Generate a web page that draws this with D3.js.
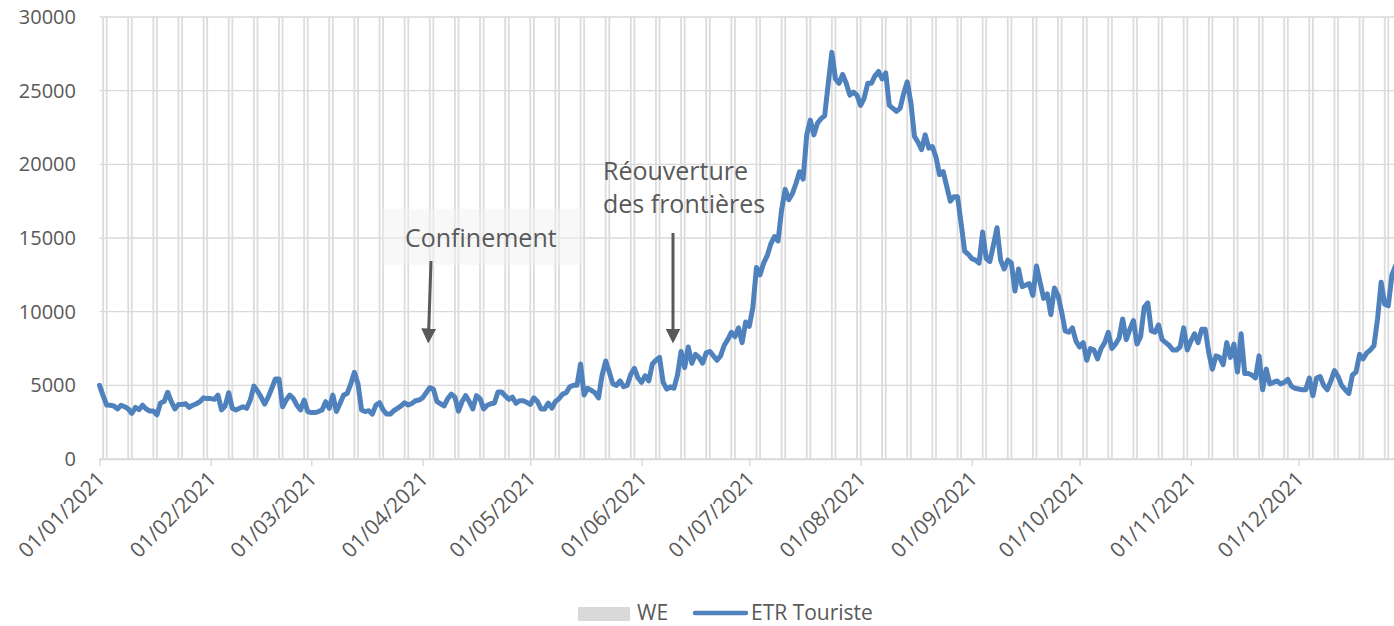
<!DOCTYPE html>
<html>
<head>
<meta charset="utf-8">
<script src="https://cdn.jsdelivr.net/npm/d3@7"></script>
<style>
  body { margin: 0; background: #fff; }
  svg { display: block; font-family: "Open Sans", sans-serif; }
</style>
</head>
<body>
<svg id="chart" width="1394" height="626"></svg>
<script>
// daily values of "ETR Touriste", one array per month (2021)
const janValues = [5000, 4300, 3660, 3650, 3600, 3400, 3650, 3550, 3400, 3100, 3500, 3350, 3650, 3400, 3250, 3250, 3000, 3800, 3900, 4530, 3900, 3400, 3700, 3700, 3750, 3500, 3650, 3750, 3900, 4150, 4100];
const febValues = [4100, 4050, 4340, 3330, 3600, 4500, 3440, 3330, 3440, 3550, 3440, 4000, 4950, 4620, 4200, 3730, 4200, 4800, 5430, 5430, 3550, 4000, 4340, 4100, 3650, 3330, 4000, 3220];
const marValues = [3150, 3150, 3220, 3330, 3890, 3440, 4340, 3220, 3770, 4340, 4450, 5100, 5880, 5100, 3330, 3220, 3280, 3050, 3660, 3820, 3330, 3050, 3050, 3280, 3440, 3600, 3820, 3660, 3770, 3950, 4000];
const aprValues = [4150, 4500, 4840, 4750, 3890, 3750, 3600, 4100, 4400, 4200, 3250, 3900, 4300, 3900, 3400, 4300, 4100, 3400, 3650, 3750, 3800, 4550, 4550, 4300, 4050, 4200, 3780, 3950, 3950, 3850];
const mayValues = [3700, 4150, 3900, 3400, 3400, 3800, 3450, 3900, 4100, 4400, 4500, 4900, 5000, 5000, 6450, 4350, 4800, 4650, 4500, 4150, 5700, 6650, 5900, 5100, 5000, 5300, 4900, 5000, 5750, 6150, 5500];
const junValues = [5200, 5650, 5300, 6450, 6700, 6900, 5200, 4750, 4900, 4800, 5700, 7300, 6200, 7600, 6500, 7100, 6900, 6500, 7200, 7300, 7000, 6700, 7000, 7700, 8100, 8600, 8300, 8900, 7900, 9300];
const julValues = [9000, 10300, 13000, 12500, 13300, 13800, 14600, 15100, 14800, 16900, 18300, 17600, 18000, 18700, 19500, 19000, 22000, 23000, 22000, 22800, 23100, 23300, 25500, 27600, 25800, 25500, 26100, 25500, 24700, 24900, 24700];
const augValues = [24000, 24500, 25500, 25500, 26000, 26300, 25800, 26200, 24000, 23800, 23600, 23800, 24800, 25600, 24200, 21900, 21500, 21000, 22000, 21100, 21200, 20500, 19300, 19500, 18500, 17500, 17800, 17800, 16000, 14100, 13900];
const sepValues = [13600, 13500, 13300, 15400, 13600, 13400, 14500, 15700, 13500, 12900, 13500, 13300, 11400, 12900, 11700, 11800, 11900, 11100, 13100, 12000, 10900, 11200, 9800, 11600, 11100, 10000, 8700, 8600, 8900, 8000];
const octValues = [7600, 7900, 6700, 7500, 7400, 6800, 7500, 7900, 8600, 7500, 7800, 8200, 9500, 8100, 8800, 9400, 7800, 8300, 10300, 10600, 8700, 8600, 9100, 8100, 7900, 7700, 7400, 7400, 7600, 8900, 7400];
const novValues = [8000, 8500, 7900, 8800, 8800, 7200, 6100, 7000, 6900, 6400, 7900, 6900, 7800, 5900, 8500, 5800, 5800, 5700, 5500, 7000, 4700, 6100, 5100, 5200, 5300, 5100, 5200, 5400, 4950, 4800];
const decValues = [4750, 4700, 4700, 5500, 4300, 5500, 5600, 5000, 4700, 5300, 6000, 5600, 5000, 4700, 4450, 5700, 5900, 7100, 6800, 7200, 7400, 7700, 9500, 12000, 10500, 10400, 12500, 13100];

const monthLabels = ["01/01/2021", "01/02/2021", "01/03/2021", "01/04/2021", "01/05/2021", "01/06/2021",
                     "01/07/2021", "01/08/2021", "01/09/2021", "01/10/2021", "01/11/2021", "01/12/2021"];
const yTicks = [0, 5000, 10000, 15000, 20000, 25000, 30000];
const WE_VALUE = 30000;          // weekend bars reach the top of the axis
const WE_DAYS = [6, 0];          // Saturday, Sunday
const seriesNames = ["WE", "ETR Touriste"];

const BLUE = "#4f81bd";
const GRID = "#d9d9d9";
const TEXT = "#595959";

const parseDate = d3.timeParse("%d/%m/%Y");
const start = parseDate("01/01/2021");
const end = parseDate("31/12/2021");

const etrTouriste = [].concat(janValues, febValues, marValues, aprValues, mayValues, junValues,
  julValues, augValues, sepValues, octValues, novValues, decValues)
  .map((v, i) => ({ date: d3.timeDay.offset(start, i), value: v }));

const weDates = d3.timeDay.range(start, d3.timeDay.offset(end, 1))
  .filter(d => WE_DAYS.includes(d.getDay()));

const svg = d3.select("#chart");

// ---- scales ----
const x = d3.scaleTime()
  .domain([start, end])
  .range([99.5, 99.5 + 364 * 3.59]);

const y = d3.scaleLinear()
  .domain([0, 30000])
  .range([459, 17]);

// ---- horizontal gridlines ----
svg.append("g")
  .selectAll("line")
  .data(yTicks)
  .enter()
  .append("line")
  .attr("x1", x.range()[0])
  .attr("x2", x.range()[1])
  .attr("y1", d => y(d))
  .attr("y2", d => y(d))
  .attr("stroke", GRID)
  .attr("stroke-width", 1.4);

// ---- weekend bars ----
svg.append("g")
  .selectAll("rect")
  .data(weDates)
  .enter()
  .append("rect")
  .attr("x", d => x(d) - 0.9)
  .attr("width", 1.8)
  .attr("y", y(WE_VALUE))
  .attr("height", y(0) - y(WE_VALUE))
  .attr("fill", "#dcdcdc");

// ---- x axis ----
const xAxis = d3.axisBottom(x)
  .tickValues(monthLabels.map(parseDate))
  .tickFormat(d3.timeFormat("%d/%m/%Y"))
  .tickSize(7)
  .tickSizeOuter(0);

const gx = svg.append("g")
  .attr("transform", `translate(0,${y(0)})`)
  .call(xAxis);
gx.select(".domain").attr("stroke", GRID).attr("stroke-width", 1.4);
gx.selectAll(".tick line").attr("stroke", GRID).attr("stroke-width", 1.4);
gx.selectAll(".tick text")
  .attr("fill", TEXT)
  .attr("font-size", 21)
  .attr("font-family", "Open Sans, sans-serif")
  .attr("text-anchor", "end")
  .attr("x", 1)
  .attr("y", 16)
  .attr("dy", "0.35em")
  .attr("transform", "rotate(-45, 1, 16)");

// ---- y axis labels ----
const yAxis = d3.axisLeft(y)
  .tickValues(yTicks)
  .tickFormat(d3.format("d"))
  .tickSize(0)
  .tickPadding(0);

const gy = svg.append("g")
  .attr("transform", "translate(76,0)")
  .call(yAxis);
gy.select(".domain").remove();
gy.selectAll(".tick text")
  .attr("fill", TEXT)
  .attr("font-size", 20)
  .attr("font-family", "Open Sans, sans-serif");

// ---- line ----
const line = d3.line()
  .x(d => x(d.date))
  .y(d => y(d.value));

svg.append("path")
  .datum(etrTouriste)
  .attr("d", line)
  .attr("fill", "none")
  .attr("stroke", BLUE)
  .attr("stroke-width", 5)
  .attr("stroke-linejoin", "round")
  .attr("stroke-linecap", "round");

// ---- annotations ----
svg.append("rect")
  .attr("x", 383).attr("y", 209)
  .attr("width", 200).attr("height", 56)
  .attr("fill", "#f2f2f2").attr("opacity", 0.5);

svg.append("text")
  .attr("x", 405).attr("y", 247)
  .attr("font-size", 25).attr("fill", TEXT)
  .text("Confinement");

svg.append("text")
  .attr("x", 603).attr("y", 180)
  .attr("font-size", 25).attr("fill", TEXT)
  .text("Réouverture");
svg.append("text")
  .attr("x", 603).attr("y", 213)
  .attr("font-size", 25).attr("fill", TEXT)
  .text("des frontières");

const defs = svg.append("defs");
defs.append("marker")
  .attr("id", "arrow")
  .attr("viewBox", "0 0 10 10")
  .attr("refX", 5).attr("refY", 5)
  .attr("markerWidth", 5).attr("markerHeight", 5)
  .attr("orient", "auto")
  .append("path")
  .attr("d", "M0,0 L10,5 L0,10 Z")
  .attr("fill", TEXT);

const arrows = [
  { x1: 431, y1: 261, x2: 428.5, y2: 336 },
  { x1: 673, y1: 233, x2: 673, y2: 336 }
];
svg.append("g")
  .selectAll("line")
  .data(arrows)
  .enter()
  .append("line")
  .attr("x1", d => d.x1).attr("y1", d => d.y1)
  .attr("x2", d => d.x2).attr("y2", d => d.y2)
  .attr("stroke", TEXT)
  .attr("stroke-width", 3)
  .attr("marker-end", "url(#arrow)");

// ---- legend ----
const legend = svg.append("g").attr("transform", "translate(0,614)");
legend.append("rect")
  .attr("x", 578).attr("y", -7)
  .attr("width", 52).attr("height", 14)
  .attr("fill", GRID);
legend.append("text")
  .attr("x", 637).attr("y", 0).attr("dy", "0.3em")
  .attr("font-size", 21).attr("fill", TEXT)
  .text(seriesNames[0]);
legend.append("line")
  .attr("x1", 695).attr("x2", 746)
  .attr("y1", -1).attr("y2", -1)
  .attr("stroke", BLUE).attr("stroke-width", 4.5)
  .attr("stroke-linecap", "round");
legend.append("text")
  .attr("x", 751).attr("y", 0).attr("dy", "0.3em")
  .attr("font-size", 21).attr("fill", TEXT)
  .text(seriesNames[1]);
</script>
</body>
</html>
